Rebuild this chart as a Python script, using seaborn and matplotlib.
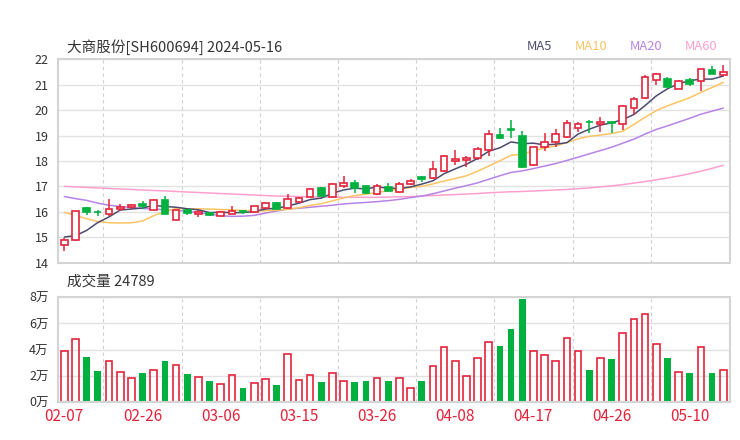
import matplotlib
matplotlib.use("Agg")
import matplotlib.pyplot as plt
import pandas as pd
import seaborn as sns

# libellés de l'axe x (un tous les 7 jours de bourse)
tick_pos = [0, 7, 14, 21, 28, 35, 42, 49, 56]
tick_labels = ["02-07", "02-26", "03-06", "03-15", "03-26", "04-08", "04-17", "04-26", "05-10"]

# bougies
opens = [14.69, 14.88, 16.15, 16.00, 15.91, 16.13, 16.20, 16.30, 16.09, 16.46,
         15.69, 16.08, 15.92, 15.95, 15.84, 15.92, 16.01, 15.99, 16.14, 16.34,
         16.14, 16.39, 16.60, 16.94, 16.60, 17.03, 17.13, 17.01, 16.69, 16.98,
         16.77, 17.09, 17.36, 17.32, 17.62, 18.01, 18.05, 18.10, 18.43, 19.02,
         19.25, 19.00, 17.86, 18.54, 18.73, 18.93, 19.28, 19.55, 19.45, 19.53,
         19.45, 20.07, 20.48, 21.18, 21.24, 20.85, 21.18, 21.14, 21.57, 21.38]
highs = [14.99, 16.05, 16.20, 16.08, 16.50, 16.31, 16.30, 16.41, 16.51, 16.61,
         16.09, 16.12, 16.08, 15.98, 16.04, 16.24, 16.08, 16.22, 16.40, 16.37,
         16.69, 16.58, 16.93, 16.97, 17.12, 17.39, 17.25, 17.07, 17.08, 17.13,
         17.16, 17.29, 17.42, 18.00, 18.24, 18.45, 18.18, 18.55, 19.22, 19.28,
         19.61, 19.18, 18.56, 19.11, 19.24, 19.61, 19.54, 19.61, 19.74, 19.55,
         20.20, 20.50, 21.40, 21.46, 21.30, 21.20, 21.28, 21.61, 21.73, 21.76]
lows = [14.45, 14.84, 15.86, 15.84, 15.82, 16.02, 16.12, 16.11, 16.08, 15.90,
        15.66, 15.88, 15.80, 15.83, 15.82, 15.90, 15.93, 15.97, 16.12, 16.08,
        16.12, 16.37, 16.58, 16.62, 16.58, 16.95, 16.73, 16.70, 16.67, 16.80,
        16.75, 17.07, 17.16, 17.30, 17.55, 17.86, 17.78, 18.05, 18.21, 18.85,
        18.89, 17.72, 17.82, 18.40, 18.56, 18.90, 19.15, 19.11, 19.15, 19.09,
        19.22, 19.80, 20.45, 20.98, 20.89, 20.82, 20.94, 20.76, 21.44, 21.36]
closes = [14.88, 16.03, 16.00, 15.98, 16.13, 16.19, 16.26, 16.21, 16.45, 15.92,
          16.08, 15.96, 16.01, 15.86, 15.98, 16.02, 15.99, 16.21, 16.33, 16.13,
          16.50, 16.55, 16.88, 16.64, 17.09, 17.13, 16.93, 16.73, 17.02, 16.82,
          17.10, 17.22, 17.29, 17.68, 18.21, 18.06, 18.10, 18.47, 19.05, 18.90,
          19.22, 17.75, 18.56, 18.73, 19.05, 19.49, 19.45, 19.52, 19.54, 19.48,
          20.17, 20.42, 21.31, 21.41, 20.89, 21.15, 21.02, 21.61, 21.44, 21.48]
volumes = [39200, 47900, 34400, 23600, 31500, 23100, 18200, 22300, 24600, 31500,
           28500, 21500, 19000, 16200, 14100, 20300, 10800, 14600, 17700, 12800,
           36700, 16900, 20500, 15400, 22100, 16200, 15400, 15900, 18500, 16200,
           18200, 10500, 15900, 27400, 42100, 31500, 19700, 33600, 45900, 42800,
           55900, 78700, 39200, 36200, 31300, 49000, 39200, 24400, 33600, 32600,
           52800, 63600, 66900, 44600, 33800, 22800, 22100, 42300, 22300, 24789]

# moyennes mobiles
ma5 = [15.01, 15.06, 15.27, 15.58, 15.80, 16.07, 16.11, 16.15, 16.25, 16.21,
       16.18, 16.12, 16.08, 15.97, 15.98, 15.97, 15.97, 16.01, 16.11, 16.14,
       16.23, 16.34, 16.48, 16.54, 16.73, 16.86, 16.93, 16.90, 16.98, 16.93,
       16.92, 16.98, 17.09, 17.22, 17.50, 17.69, 17.87, 18.10, 18.38, 18.52,
       18.75, 18.68, 18.70, 18.63, 18.66, 18.72, 19.06, 19.25, 19.41, 19.50,
       19.63, 19.83, 20.18, 20.56, 20.84, 21.04, 21.16, 21.22, 21.22, 21.34]
ma10 = [15.98, 15.86, 15.73, 15.62, 15.57, 15.56, 15.57, 15.64, 15.85, 16.01,
        16.13, 16.12, 16.12, 16.11, 16.09, 16.08, 16.05, 16.05, 16.04, 16.06,
        16.10, 16.16, 16.25, 16.32, 16.43, 16.55, 16.64, 16.69, 16.76, 16.83,
        16.89, 16.96, 17.00, 17.10, 17.21, 17.31, 17.42, 17.60, 17.80, 18.01,
        18.22, 18.27, 18.40, 18.51, 18.59, 18.73, 18.87, 18.97, 19.02, 19.08,
        19.17, 19.44, 19.72, 19.98, 20.17, 20.33, 20.49, 20.70, 20.89, 21.09]
ma20 = [16.60, 16.52, 16.45, 16.34, 16.26, 16.21, 16.17, 16.13, 16.11, 16.08,
        16.06, 16.02, 15.97, 15.91, 15.85, 15.82, 15.83, 15.86, 15.95, 16.03,
        16.11, 16.14, 16.18, 16.22, 16.26, 16.31, 16.34, 16.37, 16.40, 16.44,
        16.49, 16.56, 16.62, 16.71, 16.82, 16.93, 17.03, 17.14, 17.28, 17.42,
        17.55, 17.61, 17.70, 17.80, 17.90, 18.02, 18.15, 18.28, 18.41, 18.54,
        18.70, 18.86, 19.06, 19.24, 19.38, 19.53, 19.68, 19.84, 19.96, 20.08]
ma60 = [17.00, 16.98, 16.96, 16.94, 16.92, 16.90, 16.88, 16.86, 16.84, 16.82,
        16.80, 16.78, 16.76, 16.74, 16.72, 16.70, 16.68, 16.66, 16.64, 16.62,
        16.61, 16.60, 16.59, 16.58, 16.58, 16.57, 16.57, 16.57, 16.57, 16.58,
        16.59, 16.60, 16.62, 16.64, 16.66, 16.68, 16.70, 16.72, 16.75, 16.77,
        16.79, 16.80, 16.82, 16.84, 16.86, 16.88, 16.91, 16.94, 16.98, 17.02,
        17.07, 17.13, 17.19, 17.26, 17.33, 17.41, 17.50, 17.60, 17.71, 17.83]

RED = "#e3243b"
GREEN = "#00b140"
GRID = "#e2e2e2"
FRAME = "#d4d4d4"

df = pd.DataFrame({"i": range(len(closes)), "open": opens, "high": highs,
                   "low": lows, "close": closes, "vol": volumes,
                   "ma5": ma5, "ma10": ma10, "ma20": ma20, "ma60": ma60})
df["up"] = df["close"] >= df["open"]

sns.set_theme(style="white")
plt.rcParams["font.family"] = ["Noto Sans CJK SC", "DejaVu Sans"]

fig = plt.figure(figsize=(7.4, 4.4), dpi=100)
ax = fig.add_axes([0.0788, 0.403, 0.9077, 0.4623])
axv = fig.add_axes([0.0788, 0.0864, 0.9077, 0.238])

# moyennes mobiles
ma_colors = {"ma60": "#ff9fcf", "ma20": "#b783e6", "ma10": "#fdc462", "ma5": "#4b4b70"}
for col, c in ma_colors.items():
    sns.lineplot(data=df, x="i", y=col, ax=ax, color=c, linewidth=1.1, zorder=2)

# bougies : mèches puis corps (creux = hausse, plein vert = baisse)
wick_col = [RED if u else GREEN for u in df["up"]]
ax.vlines(df["i"], df["low"], df["high"], colors=wick_col, linewidth=1.1, zorder=3)
body_bottom = df[["open", "close"]].min(axis=1)
body_h = (df["close"] - df["open"]).abs().clip(lower=0.025)
ax.bar(df["i"], body_h, bottom=body_bottom, width=0.6,
       color=["white" if u else GREEN for u in df["up"]],
       edgecolor=wick_col, linewidth=1.2, zorder=4)

# volume
sns.barplot(data=df[df["up"]], x="i", y="vol", native_scale=True, fill=False,
            color=RED, width=0.6, linewidth=1.2, errorbar=None, ax=axv)
sns.barplot(data=df[~df["up"]], x="i", y="vol", native_scale=True,
            color=GREEN, width=0.6, linewidth=0, saturation=1, errorbar=None, ax=axv)

for a in (ax, axv):
    a.set_xlim(-0.54, 59.6)
    a.set_xlabel("")
    a.set_ylabel("")
    for x in range(3, 56, 7):
        a.axvline(x + 0.5, color="#cfcfcf", linestyle=(0, (3, 3)), linewidth=0.8, zorder=0)
    for s in a.spines.values():
        s.set_color(FRAME)
        s.set_linewidth(1.5)
    a.tick_params(axis="both", length=0, colors="#333333")
    a.grid(axis="y", color=GRID, linewidth=1.0)
    a.set_axisbelow(True)

ax.set_ylim(14, 22)
ax.set_yticks(range(14, 23))
ax.set_yticklabels([str(v) for v in range(14, 23)], fontsize=9)
ax.tick_params(axis="y", pad=7)
ax.set_xticks([])

axv.set_ylim(0, 80000)
axv.set_yticks([0, 20000, 40000, 60000, 80000])
axv.set_yticklabels([f"{v // 10000}万" for v in [0, 20000, 40000, 60000, 80000]], fontsize=9)
axv.tick_params(axis="y", pad=7)
axv.set_xticks(tick_pos)
axv.set_xticklabels(tick_labels, fontsize=11, color=RED)
axv.tick_params(axis="x", pad=4, labelcolor=RED)

fig.text(67 / 740, 1 - 47 / 440, "大商股份[SH600694] 2024-05-16", fontsize=10.5,
         color="#333333", va="center")
fig.text(67 / 740, 1 - 282 / 440, "成交量 24789", fontsize=10.5, color="#333333", va="center")
for (name, col), x in zip([("MA5", "ma5"), ("MA10", "ma10"), ("MA20", "ma20"), ("MA60", "ma60")],
                          [527, 575, 630, 685]):
    fig.text(x / 740, 1 - 47 / 440, name, fontsize=9.3, color=ma_colors[col], va="center")

fig.savefig("out.png", dpi=100)
